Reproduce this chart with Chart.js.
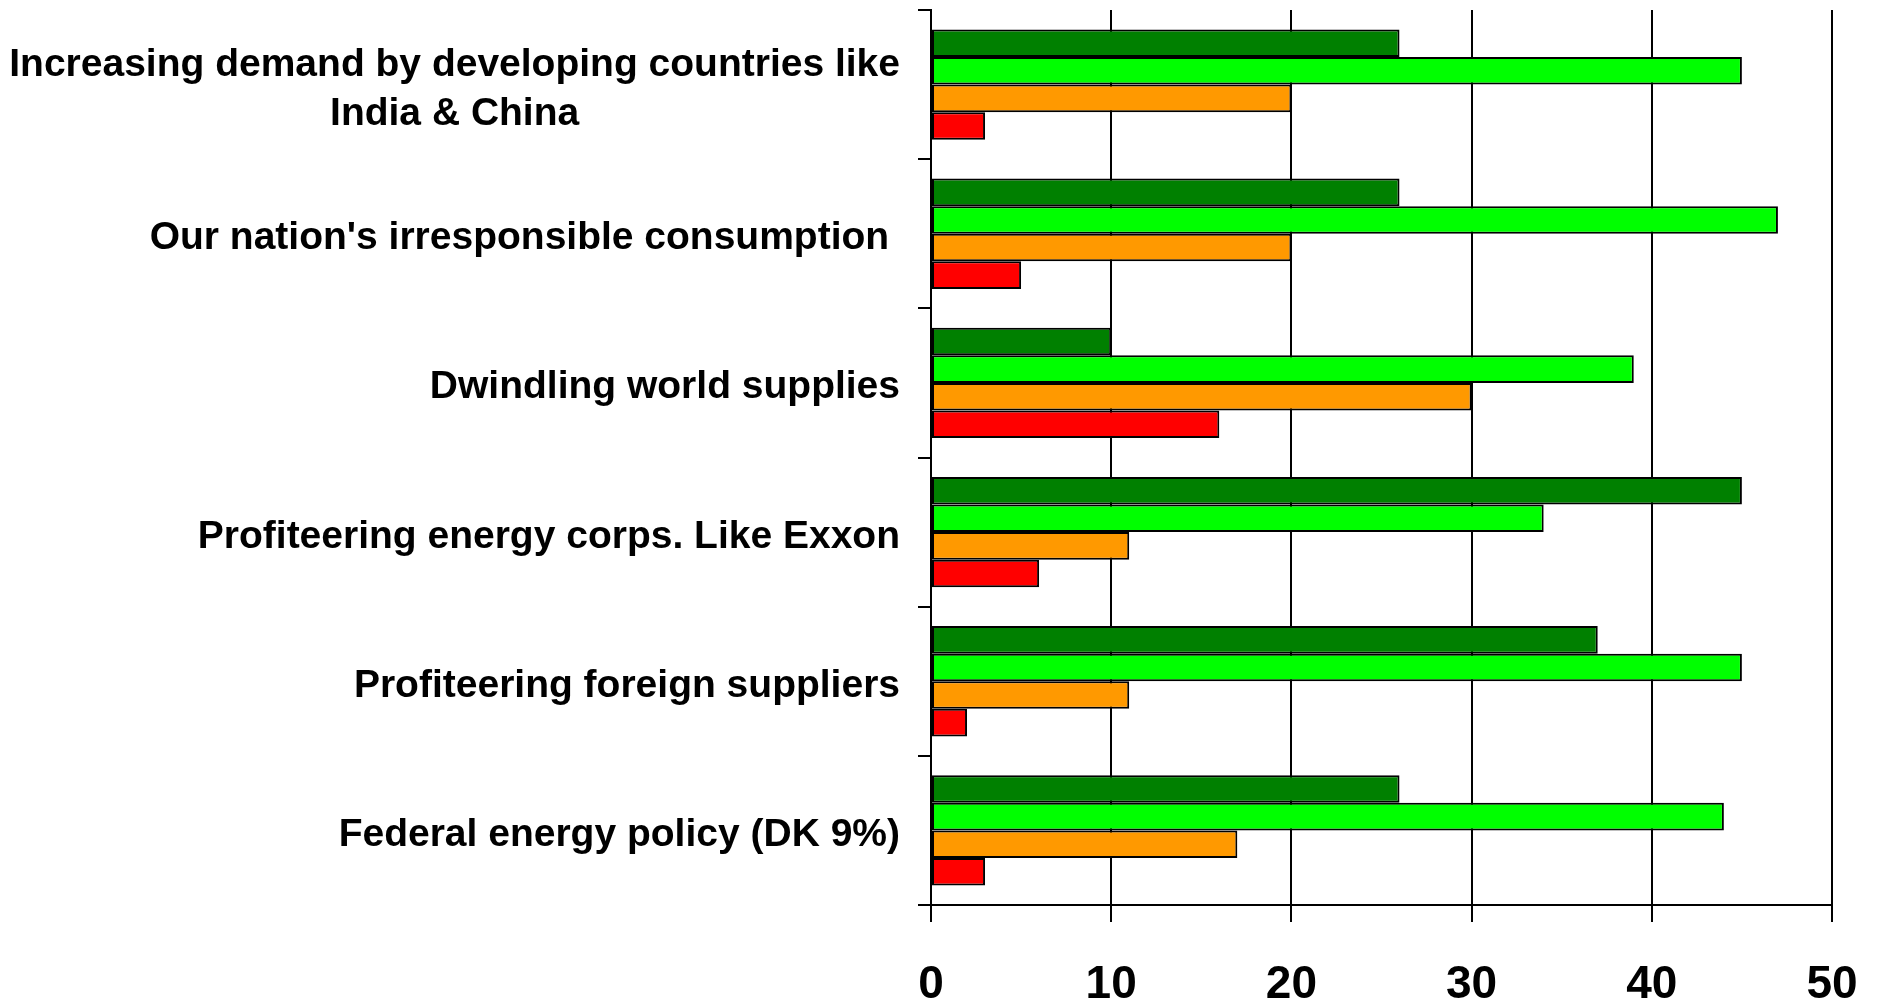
<!DOCTYPE html>
<html>
<head>
<meta charset="utf-8">
<script src="https://cdn.jsdelivr.net/npm/chart.js@4.4.1/dist/chart.umd.min.js"></script>
<style>
  html, body { margin: 0; padding: 0; background: #fff; }
  #wrap { width: 1881px; height: 1003px; position: relative; }
</style>
</head>
<body>
<div id="wrap"><canvas id="chart"></canvas></div>
<script>
// categories, top to bottom
let categories = [
  ["Increasing demand by developing countries like", "India & China"],
  "Our nation's irresponsible consumption ",
  "Dwindling world supplies",
  "Profiteering energy corps. Like Exxon",
  "Profiteering foreign suppliers",
  "Federal energy policy (DK 9%)"
];
let darkGreen = [26, 26, 10, 45, 37, 26];
let lightGreen = [45, 47, 39, 34, 45, 44];
let orange = [20, 20, 30, 11, 11, 17];
let red = [3, 5, 16, 6, 2, 3];
let xTicks = [0, 10, 20, 30, 40, 50];

const labelSize = 39;
const labelFont = 'bold ' + labelSize + 'px "Liberation Sans", Arial, sans-serif';

// category labels: block right-aligned next to the axis, lines centred inside the block
const catLabels = {
  id: 'catLabels',
  afterDraw(chart) {
    let ctx = chart.ctx;
    let ys = chart.scales.y;
    let xr = chart.chartArea.left - 31;
    let capHalf = labelSize * 0.716 / 2;
    ctx.save();
    ctx.font = labelFont;
    ctx.fillStyle = '#000';
    ctx.textBaseline = 'alphabetic';
    ctx.textAlign = 'center';
    categories.forEach((lab, i) => {
      let lines = Array.isArray(lab) ? lab : [lab];
      let w = Math.max(...lines.map(l => ctx.measureText(l).width));
      let cy = ys.getPixelForValue(i) + 1.5;
      lines.forEach((l, j) => {
        ctx.fillText(l, xr - w / 2, cy + capHalf + (j - (lines.length - 1) / 2) * 49);
      });
    });
    ctx.restore();
  }
};

function bar(data, color) {
  return {
    data: data,
    backgroundColor: color,
    borderColor: '#000',
    borderWidth: 2,
    borderSkipped: false,
    categoryPercentage: 0.74,
    barPercentage: 1.0
  };
}

new Chart(document.getElementById('chart'), {
  type: 'bar',
  data: {
    labels: categories,
    datasets: [
      bar(darkGreen, '#008000'),
      bar(lightGreen, '#00FF00'),
      bar(orange, '#FF9900'),
      bar(red, '#FF0000')
    ]
  },
  options: {
    indexAxis: 'y',
    responsive: true,
    maintainAspectRatio: false,
    animation: false,
    events: [],
    layout: { padding: { top: 10, right: 49, bottom: 0, left: 0 } },
    plugins: {
      legend: { display: false },
      tooltip: { enabled: false }
    },
    scales: {
      x: {
        min: 0,
        max: 50,
        afterBuildTicks: axis => { axis.ticks = xTicks.map(v => ({ value: v })); },
        afterFit: scale => {
          scale.height = 98;
          scale.paddingLeft = 0;
          scale.paddingRight = 0;
        },
        grid: { color: '#000', lineWidth: 2, tickLength: 17, tickColor: '#000' },
        border: { color: '#000', width: 2 },
        ticks: {
          color: '#000',
          padding: 36,
          font: { family: '"Liberation Sans", Arial, sans-serif', size: 46, weight: 'bold' }
        }
      },
      y: {
        grid: { drawOnChartArea: false, color: '#000', lineWidth: 2, tickLength: 13 },
        border: { color: '#000', width: 2 },
        ticks: { display: false },
        afterFit: scale => { scale.width = 931; }
      }
    }
  },
  plugins: [catLabels]
});
</script>
</body>
</html>
